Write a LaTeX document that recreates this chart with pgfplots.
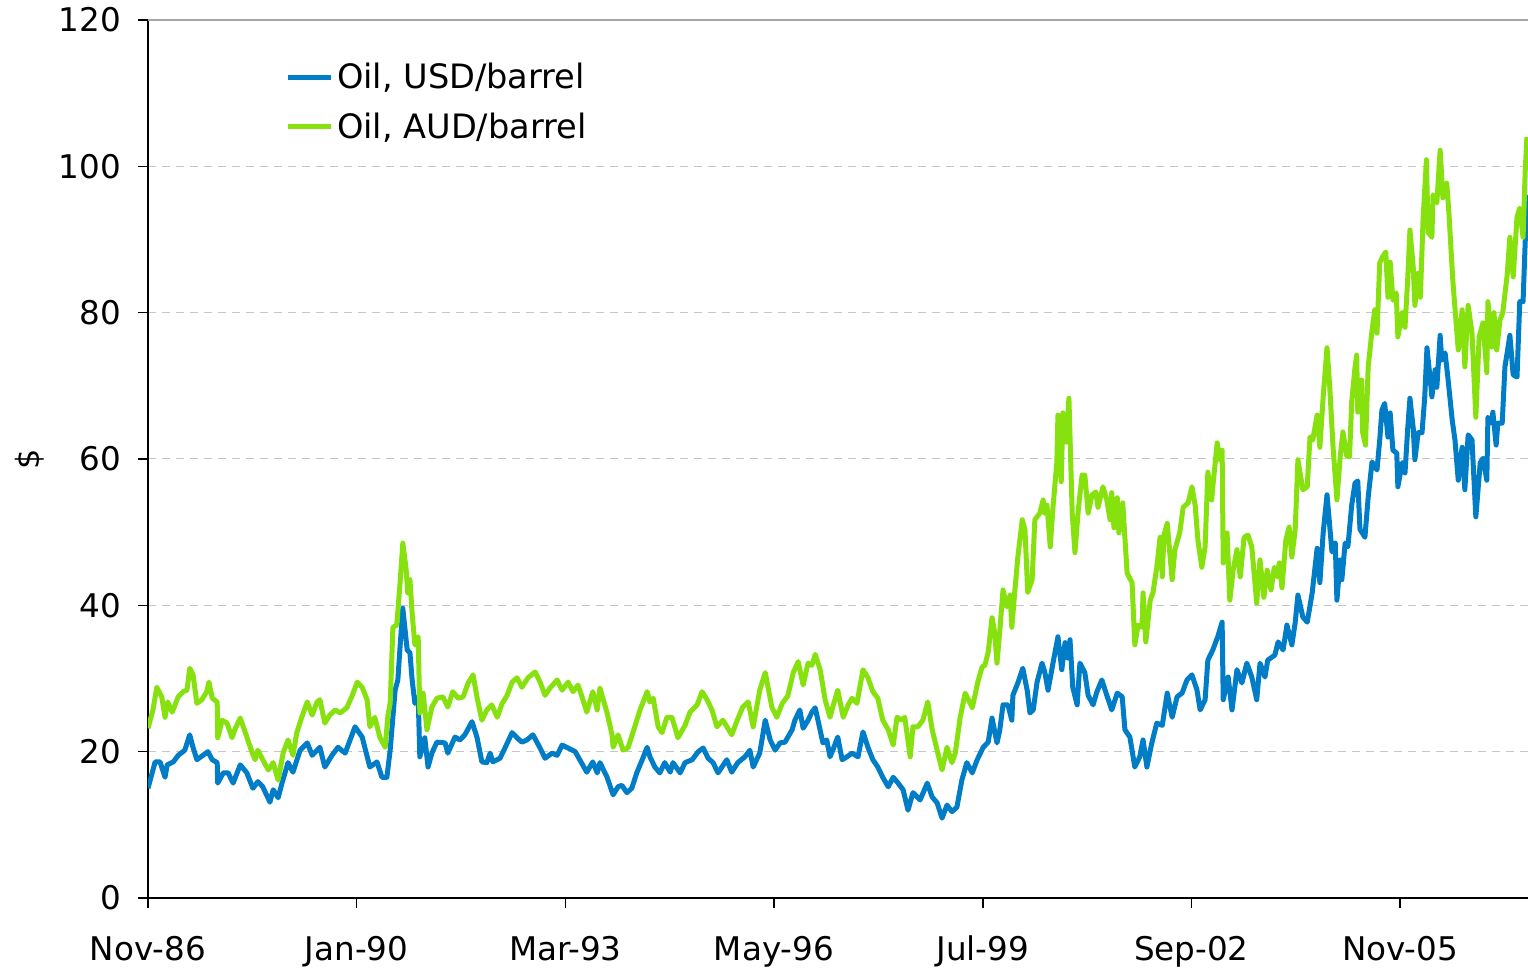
\documentclass[border=0pt]{standalone}
\usepackage{pgfplots}
\pgfplotsset{compat=1.18}
\usepackage{fontspec}
\setmainfont{DejaVu Sans}
\definecolor{usdblue}{RGB}{0,125,198}
\definecolor{audgreen}{RGB}{135,225,15}
\begin{document}
\begin{tikzpicture}
\begin{axis}[
  name=ax,
  scale only axis,
  width=690pt, height=439pt,
  xmin=0, xmax=251.3, ymin=0, ymax=120,
  axis x line*=bottom, axis y line*=left,
  axis line style={black, line width=0.8pt},
  xtick={0,38,76,114,152,190,228},
  xticklabels={Nov-86,Jan-90,Mar-93,May-96,Jul-99,Sep-02,Nov-05},
  ytick={0,20,40,60,80,100,120},
  tick align=outside,
  major tick length=5pt,
  tick style={black, line width=0.8pt},
  ymajorgrids,
  grid style={gray!45, line width=0.5pt, dash pattern=on 4pt off 3pt},
  /pgf/number format/assume math mode=true,
  ticklabel style={font=\fontsize{16.3}{19}\selectfont},
  xticklabel style={yshift=-10.5pt},
  yticklabel style={xshift=-5pt},
  ylabel={\$},
  every axis y label/.style={at={(rel axis cs:0,0.5)}, xshift=-59pt, rotate=90, anchor=center, font=\fontsize{16}{19}\selectfont},
  legend style={at={(0.099,0.956)}, anchor=north west, draw=none, fill=none,
    font=\fontsize{16.8}{19}\selectfont, inner sep=0pt, row sep=6.5pt},
  legend cell align=left,
  legend image code/.code={\draw[#1, line width=2.5pt] (-3pt,0pt) -- (18.5pt,0pt);},
  every axis plot/.append style={line width=2.5pt, line join=round},
  after end axis/.code={\draw[gray!70, line width=0.8pt] (rel axis cs:0,1) -- (rel axis cs:1,1);},
]
\addplot[usdblue] coordinates {
(0.0,15.0)(1.3,18.6)(2.2,18.6)(3.1,16.5)(3.5,18.2)(4.6,18.6)(5.5,19.5)(6.7,20.2)(7.6,22.3)(8.2,20.6)
(8.9,18.9)(10.0,19.5)(10.9,20.0)(11.7,18.9)(12.6,18.5)(12.7,15.7)(13.7,17.1)(14.6,17.1)(15.5,15.7)(16.8,18.2)
(18.0,17.1)(19.1,15.0)(20.0,15.9)(20.9,15.2)(22.2,13.1)(22.8,14.8)(23.7,13.7)(24.4,15.7)(25.5,18.5)(26.4,17.2)
(27.7,20.2)(29.0,21.2)(29.9,19.5)(31.3,20.6)(32.2,17.9)(33.5,19.5)(34.6,20.6)(35.9,19.8)(36.8,21.6)(37.7,23.4)
(39.0,22.0)(40.4,17.9)(41.7,18.6)(42.6,16.5)(43.5,16.5)(44.1,20.2)(45.0,28.4)(45.5,29.8)(45.9,34.3)(46.4,39.6)
(47.2,33.9)(47.7,33.5)(48.1,29.8)(48.6,26.6)(49.2,27.5)(49.5,19.3)(50.4,21.9)(51.0,17.9)(51.7,19.8)(52.6,21.3)
(54.1,21.2)(54.6,19.8)(55.9,22.0)(56.8,21.6)(57.7,22.3)(59.0,24.1)(59.9,22.0)(60.8,18.6)(61.7,18.5)(62.3,19.8)
(62.8,18.6)(64.1,19.1)(65.0,20.5)(66.3,22.6)(67.2,21.9)(68.1,21.3)(69.0,21.6)(70.1,22.3)(71.4,20.5)(72.3,19.1)
(73.6,19.8)(74.5,19.5)(75.4,20.9)(76.5,20.5)(77.8,20.0)(78.7,18.8)(79.9,17.2)(81.0,18.6)(81.8,17.1)(82.3,18.5)
(83.6,16.5)(84.7,14.1)(85.6,15.2)(86.3,15.4)(87.2,14.4)(88.1,15.0)(89.0,17.1)(90.0,18.9)(90.9,20.6)(91.4,19.3)
(92.3,17.9)(93.2,17.1)(94.1,18.5)(95.1,17.2)(95.6,18.5)(96.9,17.1)(97.8,18.5)(99.1,18.9)(100.2,20.0)(101.1,20.5)
(102.0,19.1)(102.9,18.5)(103.8,17.1)(105.4,18.9)(106.3,17.2)(107.4,18.5)(108.7,19.3)(109.6,20.2)(110.2,17.9)(111.4,19.8)
(112.4,24.3)(113.3,21.6)(114.2,20.2)(115.1,21.2)(116.0,21.3)(117.3,23.0)(117.8,24.3)(118.7,25.7)(119.3,23.2)(120.2,24.3)
(120.9,25.4)(121.5,26.0)(122.0,24.3)(122.9,21.2)(123.6,21.6)(124.2,19.3)(124.7,20.2)(125.6,22.0)(126.4,18.9)(127.3,19.3)
(128.2,19.8)(129.3,19.3)(130.2,22.7)(131.1,20.6)(132.0,18.9)(132.9,17.9)(133.8,16.5)(134.8,15.2)(135.7,16.5)(136.6,15.7)
(137.5,14.8)(138.4,12.0)(139.3,14.4)(140.6,13.4)(141.9,15.7)(142.8,13.8)(143.7,13.0)(144.6,10.9)(145.5,12.7)(146.4,11.8)
(147.3,12.4)(148.2,16.1)(149.1,18.5)(150.1,17.1)(151.0,18.9)(152.1,20.6)(153.0,21.3)(153.7,24.6)(154.6,21.2)(155.1,22.9)
(155.7,26.4)(156.6,26.4)(157.3,24.3)(157.5,27.7)(158.4,29.4)(159.3,31.4)(160.1,28.4)(160.6,25.3)(161.2,25.7)(161.9,29.5)
(162.8,32.1)(163.3,30.9)(163.9,28.4)(164.8,32.1)(165.7,35.7)(166.4,31.2)(167.0,34.9)(167.5,32.8)(167.9,35.3)(168.4,28.8)
(169.2,26.4)(169.7,32.1)(170.6,30.8)(171.2,27.7)(172.1,26.4)(172.8,28.2)(173.7,29.8)(174.6,27.7)(175.5,25.7)(176.5,28.0)
(177.4,27.5)(177.9,23.0)(178.8,22.0)(179.7,17.9)(180.6,19.3)(181.2,21.6)(181.9,17.9)(182.8,21.2)(183.7,23.9)(184.7,23.6)
(185.6,28.0)(186.5,24.7)(187.4,27.5)(188.3,28.0)(189.2,29.8)(190.1,30.5)(191.0,28.5)(191.6,25.7)(192.5,27.1)(193.0,32.5)
(193.9,33.9)(194.8,35.7)(195.6,37.7)(195.8,27.1)(196.7,30.2)(197.4,25.7)(198.3,31.2)(199.2,29.4)(200.1,32.1)(201.0,30.2)
(201.9,27.1)(202.5,32.1)(203.4,30.2)(203.9,32.5)(205.2,33.2)(205.8,35.0)(206.7,33.9)(207.4,37.3)(208.3,34.6)(208.9,37.6)
(209.4,41.4)(210.3,38.4)(211.1,37.7)(212.0,41.7)(212.9,47.8)(213.4,43.1)(214.0,49.9)(214.7,55.1)(215.6,47.3)(216.2,48.5)
(216.5,40.7)(217.1,46.2)(217.4,43.5)(218.0,48.5)(218.5,48.0)(219.2,53.7)(219.8,56.7)(220.3,57.0)(220.7,50.4)(221.6,49.3)
(222.2,54.8)(222.9,59.6)(223.8,58.5)(224.3,62.6)(224.7,66.7)(225.2,67.6)(225.8,63.0)(226.2,66.3)(226.7,61.2)(227.4,60.8)
(227.6,56.2)(228.4,59.5)(228.9,58.1)(229.4,64.2)(229.8,68.3)(230.4,64.2)(230.7,59.9)(231.3,63.6)(232.0,63.6)(232.5,68.5)
(232.9,75.2)(233.5,70.8)(233.8,68.5)(234.4,72.2)(234.7,69.8)(235.3,76.9)(235.6,73.5)(236.2,74.5)(236.7,71.2)(237.5,65.3)
(238.0,62.6)(238.6,57.1)(239.3,61.6)(239.8,55.8)(240.4,63.3)(241.1,62.6)(241.8,52.1)(242.6,59.5)(243.1,60.1)(243.8,57.1)
(244.0,65.7)(244.7,64.9)(244.9,66.4)(245.5,61.9)(245.8,64.9)(246.6,64.9)(247.1,72.6)(248.0,76.9)(248.6,71.5)(249.3,71.2)
(249.8,81.5)(250.4,81.5)(251.1,96.1)
};
\addlegendentry{Oil, USD/barrel}
\addplot[audgreen] coordinates {
(0.0,23.2)(0.9,25.7)(1.6,28.8)(2.5,27.5)(3.1,24.7)(3.6,26.8)(4.4,25.4)(5.5,27.5)(6.4,28.2)(7.1,28.4)
(7.6,31.4)(8.2,30.5)(8.9,26.6)(9.8,27.1)(10.7,28.2)(11.1,29.5)(11.7,27.3)(12.6,26.8)(12.7,21.9)(13.5,24.3)
(14.4,23.9)(15.3,21.9)(15.8,23.0)(16.8,24.6)(18.0,22.0)(18.9,20.0)(19.5,18.9)(20.0,20.2)(20.9,18.9)(21.9,17.5)
(22.8,18.5)(23.7,16.1)(24.6,19.8)(25.5,21.6)(26.4,19.5)(27.1,22.6)(28.0,24.7)(29.0,26.8)(29.9,25.0)(30.8,26.8)
(31.3,27.1)(32.2,23.9)(33.1,25.0)(34.1,25.7)(35.0,25.3)(36.2,26.0)(37.1,27.5)(38.1,29.5)(39.0,28.8)(39.9,27.1)
(40.4,23.4)(41.3,24.7)(42.2,22.0)(43.2,20.6)(43.7,25.0)(44.1,26.6)(44.6,37.0)(45.3,37.3)(45.9,43.0)(46.4,48.5)
(47.0,45.0)(47.3,41.7)(47.7,43.5)(48.1,38.9)(48.6,34.6)(49.2,35.7)(49.5,25.3)(50.1,28.0)(50.8,23.0)(51.7,26.1)
(52.6,27.3)(53.7,27.5)(54.6,26.1)(55.5,28.2)(56.5,27.3)(57.4,27.5)(58.3,29.4)(59.2,30.5)(59.9,27.5)(60.8,24.3)
(61.7,25.7)(62.6,26.4)(63.6,24.7)(64.5,26.6)(65.4,27.7)(66.3,29.5)(67.2,30.1)(68.1,28.8)(69.2,30.1)(70.5,30.9)
(71.4,29.5)(72.3,27.7)(73.2,28.7)(74.5,29.8)(75.4,28.4)(76.5,29.5)(77.4,28.2)(78.3,29.1)(79.2,27.1)(79.9,25.4)
(81.0,28.2)(81.8,25.7)(82.3,28.7)(83.6,25.3)(84.5,22.3)(84.7,20.6)(85.6,22.3)(86.5,20.2)(87.4,20.5)(88.3,22.6)
(89.6,25.7)(90.9,28.2)(91.4,26.8)(92.0,27.3)(92.9,23.4)(93.6,22.6)(94.5,24.7)(95.4,24.7)(96.5,21.9)(97.8,23.6)
(98.7,25.4)(100.0,26.4)(100.9,28.2)(101.8,27.1)(102.7,25.7)(103.6,23.4)(104.7,24.3)(106.3,22.3)(107.3,24.3)(108.3,26.1)
(109.3,26.8)(110.2,23.4)(111.4,28.4)(112.4,30.8)(113.6,26.1)(114.5,24.7)(115.5,26.6)(116.5,27.6)(117.5,30.8)(118.4,32.3)
(119.3,29.1)(120.2,32.1)(120.9,31.8)(121.5,33.3)(122.4,31.2)(123.3,27.1)(124.2,24.7)(124.7,26.1)(125.6,28.4)(126.6,24.7)
(127.5,26.4)(128.2,27.3)(129.1,26.6)(130.2,31.2)(131.1,30.1)(132.0,28.2)(132.9,27.3)(133.8,24.3)(134.8,23.0)(135.7,20.9)
(136.4,24.7)(137.3,24.3)(137.8,24.7)(138.8,19.3)(139.3,23.4)(140.2,23.4)(141.1,24.3)(142.0,26.8)(142.8,23.0)(143.7,20.2)
(144.6,17.5)(145.5,20.6)(146.4,18.5)(147.0,19.8)(147.9,24.7)(148.8,28.0)(149.4,27.1)(150.1,26.0)(150.6,27.7)(151.1,29.5)
(151.9,31.6)(152.4,31.8)(153.0,33.6)(153.7,38.3)(154.2,36.2)(154.6,32.1)(155.1,36.4)(155.7,42.1)(156.4,39.8)(157.0,41.4)
(157.3,37.0)(157.9,42.4)(158.4,46.6)(159.2,51.7)(159.7,50.3)(160.2,41.8)(161.0,43.5)(161.5,51.7)(162.4,52.6)(163.0,54.4)
(163.3,52.6)(163.7,53.7)(164.3,48.0)(164.8,53.4)(165.5,59.5)(165.7,66.0)(166.3,56.9)(166.6,66.3)(167.2,62.3)(167.7,68.3)
(168.3,52.6)(168.8,47.2)(169.4,53.0)(170.1,57.8)(170.6,57.8)(171.2,52.6)(171.9,55.1)(172.6,55.5)(173.0,53.4)(173.9,56.2)
(174.6,54.4)(175.2,51.7)(175.5,55.4)(175.9,50.6)(176.5,54.7)(176.8,49.9)(177.5,54.0)(178.3,44.4)(179.2,43.1)(179.7,34.6)
(180.3,37.3)(181.0,37.0)(181.2,41.7)(181.7,35.0)(182.5,40.7)(183.0,41.7)(183.7,45.2)(184.3,49.3)(184.7,43.9)(185.0,49.6)
(185.6,51.2)(186.5,43.5)(187.0,47.6)(187.9,50.0)(188.5,53.4)(189.4,54.0)(190.1,56.2)(190.7,53.6)(191.2,48.8)(191.9,45.2)
(192.5,48.0)(193.0,58.2)(193.7,54.4)(193.9,56.2)(194.7,62.2)(195.2,59.9)(195.6,61.2)(195.8,45.8)(196.5,49.9)(197.0,40.7)
(197.6,44.8)(198.3,47.6)(198.9,43.9)(199.6,49.3)(200.3,49.6)(201.0,48.0)(201.9,40.3)(202.5,46.2)(203.2,41.1)(203.8,44.8)
(204.5,42.1)(205.1,45.2)(205.6,43.9)(206.0,45.8)(206.5,42.4)(207.2,48.9)(207.8,50.7)(208.3,46.6)(208.9,50.3)(209.4,59.9)
(210.3,55.8)(211.1,56.2)(211.6,63.0)(212.1,62.6)(212.9,66.0)(213.4,61.6)(214.0,68.5)(214.7,75.2)(215.2,69.8)(215.8,61.6)
(216.5,54.4)(217.1,60.3)(217.6,63.7)(218.3,60.4)(218.8,60.3)(219.2,67.9)(219.8,72.5)(220.1,74.2)(220.3,66.4)(221.0,70.8)
(221.2,63.6)(221.7,61.9)(222.2,72.6)(222.9,77.6)(223.4,80.4)(223.8,77.2)(224.3,86.8)(224.8,87.6)(225.4,88.3)(225.8,82.1)
(226.2,86.9)(226.7,81.7)(227.3,82.7)(227.6,76.7)(228.4,80.0)(228.9,78.0)(229.4,84.7)(229.8,91.3)(230.4,86.2)(230.7,81.0)
(231.3,85.4)(231.7,82.1)(232.2,92.9)(232.8,100.9)(233.1,91.0)(233.8,90.3)(234.0,96.1)(234.7,95.0)(235.3,102.2)(235.8,95.7)
(236.5,97.7)(236.9,93.6)(237.6,84.5)(238.0,80.6)(238.6,74.9)(239.3,80.4)(239.8,72.6)(240.4,81.0)(241.1,77.2)(241.8,65.7)
(242.4,76.7)(243.1,78.6)(243.8,71.8)(244.0,81.5)(244.7,75.3)(245.1,80.0)(245.6,74.9)(246.2,79.0)(246.7,80.0)(247.5,85.1)
(248.0,90.3)(248.6,84.9)(249.3,93.1)(249.8,94.3)(250.4,90.3)(250.8,99.5)(251.1,104.0)
};
\addlegendentry{Oil, AUD/barrel}
\end{axis}
\pgfresetboundingbox
\path ([xshift=-74pt,yshift=-36pt]ax.south west) rectangle ([yshift=10pt]ax.north east);
\end{tikzpicture}
\end{document}
